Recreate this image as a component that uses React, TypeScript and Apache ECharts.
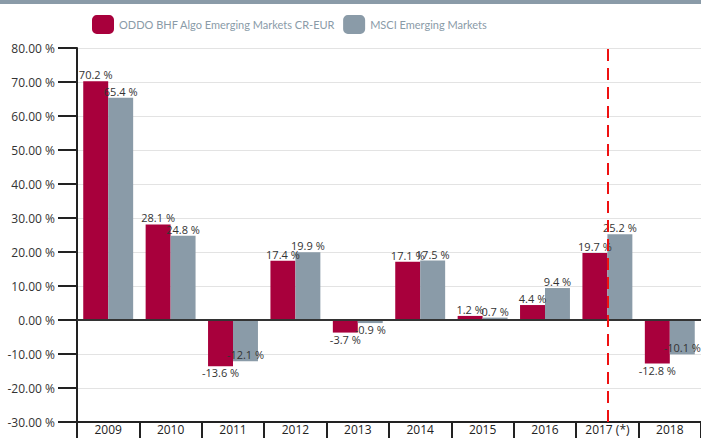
import React, { useEffect, useRef } from "react";
import * as echarts from "echarts";

const categories = ["2009", "2010", "2011", "2012", "2013", "2014", "2015", "2016", "2017 (*)", "2018"];
const oddoValues = [70.2, 28.1, -13.6, 17.4, -3.7, 17.1, 1.2, 4.4, 19.7, -12.8];
const msciValues = [65.4, 24.8, -12.1, 19.9, -0.9, 17.5, 0.7, 9.4, 25.2, -10.1];
const seriesNames = ["ODDO BHF Algo Emerging Markets CR-EUR", "MSCI Emerging Markets"];
const markedCategory = "2017 (*)";

const RED = "#a8003c";
const GRAY = "#8a9ba8";
const FONT = "Open Sans";
const LEGEND_FONT = "Lato";

function toData(values: number[], insideNeg: boolean) {
  return values.map((v) => ({
    value: v,
    label: {
      position: v < 0 ? (insideNeg && v < -5 ? "insideBottom" : "bottom") : "top",
      distance: 1,
    },
  }));
}

export default function App() {
  const ref = useRef<HTMLDivElement>(null);
  useEffect(() => {
    document.body.style.margin = "0";
    const chart = echarts.init(ref.current!, null, { renderer: "svg" });
    const labelStyle = {
      show: true,
      formatter: "{c} %",
      fontFamily: FONT,
      fontSize: 11,
      color: "#333",
    };
    chart.setOption({
      animation: false,
      textStyle: { fontFamily: FONT },
      graphic: [
        { type: "rect", left: 0, top: 0, shape: { width: 701, height: 4 }, style: { fill: GRAY } },
      ],
      legend: {
        left: 87,
        top: 10,
        icon: "roundRect",
        itemWidth: 22,
        itemHeight: 19,
        itemGap: 8,
        textStyle: { color: GRAY, fontSize: 11, fontFamily: LEGEND_FONT },
        data: seriesNames,
      },
      grid: { left: 77, right: -1, top: 48, bottom: 16, containLabel: false },
      xAxis: {
        type: "category",
        data: categories,
        position: "bottom",
        axisLine: { onZero: false, lineStyle: { color: "#222", width: 2 } },
        axisTick: { show: true, length: 16, lineStyle: { color: "#222", width: 2 } },
        axisLabel: { color: "#222", fontSize: 12, margin: 1, fontFamily: FONT },
        splitLine: { show: false },
      },
      yAxis: {
        type: "value",
        min: -30,
        max: 80,
        interval: 10,
        axisLine: { show: true, lineStyle: { color: "#222", width: 2 } },
        axisTick: { show: true, inside: false, length: 19, lineStyle: { color: "#222", width: 2 } },
        axisLabel: {
          color: "#333",
          fontSize: 12,
          margin: 22,
          fontFamily: FONT,
          formatter: (v: number) => v.toFixed(2) + " %",
        },
        splitLine: { show: true, lineStyle: { color: "#e3e3e3", width: 1 } },
      },
      series: [
        {
          name: seriesNames[0],
          type: "bar",
          data: toData(oddoValues, false),
          itemStyle: { color: RED },
          barGap: "0%",
          barCategoryGap: "20%",
          label: labelStyle,
        },
        {
          name: seriesNames[1],
          type: "bar",
          data: toData(msciValues, true),
          itemStyle: { color: GRAY },
          barGap: "0%",
          barCategoryGap: "20%",
          label: labelStyle,
        },
        {
          name: "markers",
          type: "line",
          data: [],
          silent: true,
          markLine: {
            silent: true,
            symbol: "none",
            label: { show: false },
            z: 10,
            data: [
              { yAxis: 0, lineStyle: { color: "#333", width: 2, type: "solid" } },
              { xAxis: markedCategory, lineStyle: { color: "#ee1111", width: 2, type: [12, 7] } },
            ],
          },
        },
      ],
    });
    return () => chart.dispose();
  }, []);
  return <div ref={ref} style={{ width: 701, height: 438, position: "absolute", left: 0, top: 0 }} />;
}
